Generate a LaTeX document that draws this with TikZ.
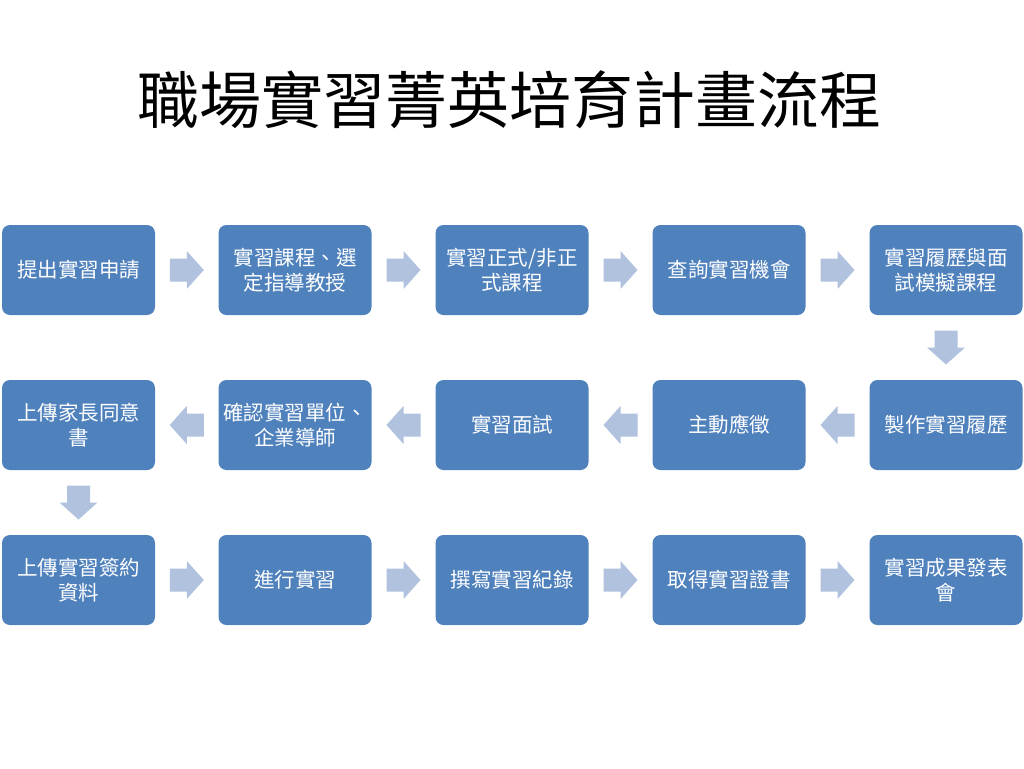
\documentclass[tikz,border=0pt]{standalone}
\usepackage{fontspec}
\setmainfont{Noto Sans CJK TC}
\newfontfamily\cjk{Noto Sans CJK TC}
\usetikzlibrary{calc}
\definecolor{boxblue}{HTML}{4F81BD}
\definecolor{arrowblue}{HTML}{B0C2DE}
\tikzset{
  stepbox/.style={draw=none, fill=boxblue, rounded corners=8pt, minimum width=153pt, minimum height=90pt,
    text=white, font=\cjk\fontsize{20.5}{25}\selectfont, align=center, inner sep=1pt},
  blockarrow/.pic={\fill[arrowblue] (-17,-11.5) -- (0,-11.5) -- (0,-19) -- (17,0) -- (0,19) -- (0,11.5) -- (-17,11.5) -- cycle;},
}
\begin{document}
\begin{tikzpicture}[x=1pt,y=-1pt]
\useasboundingbox[fill=white] (0,0) rectangle (1024,768);
\node[font=\cjk\fontsize{62}{64}\selectfont] (title) at (509,100) {職場實習菁英培育計畫流程};
% row 1
\node[stepbox] (a1) at (78.5,270) {提出實習申請};
\node[stepbox] (a2) at (295,270) {實習課程、選\\定指導教授};
\node[stepbox] (a3) at (512,270) {實習正式/非正\\式課程};
\node[stepbox] (a4) at (729,270) {查詢實習機會};
\node[stepbox] (a5) at (946,270) {實習履歷與面\\試模擬課程};
% row 2
\node[stepbox] (b5) at (946,425) {製作實習履歷};
\node[stepbox] (b4) at (729,425) {主動應徵};
\node[stepbox] (b3) at (512,425) {實習面試};
\node[stepbox] (b2) at (295,425) {確認實習單位、\\企業導師};
\node[stepbox] (b1) at (78.5,425) {上傳家長同意\\書};
% row 3
\node[stepbox] (c1) at (78.5,580) {上傳實習簽約\\資料};
\node[stepbox] (c2) at (295,580) {進行實習};
\node[stepbox] (c3) at (512,580) {撰寫實習紀錄};
\node[stepbox] (c4) at (729,580) {取得實習證書};
\node[stepbox] (c5) at (946,580) {實習成果發表\\會};
% arrow positions
\coordinate (r12) at ($(a1.east)!0.5!(a2.west)$);
\coordinate (r23) at ($(a2.east)!0.5!(a3.west)$);
\coordinate (r34) at ($(a3.east)!0.5!(a4.west)$);
\coordinate (r45) at ($(a4.east)!0.5!(a5.west)$);
\coordinate (d5) at ($(a5.south)!0.5!(b5.north)$);
\coordinate (l54) at ($(b5.west)!0.5!(b4.east)$);
\coordinate (l43) at ($(b4.west)!0.5!(b3.east)$);
\coordinate (l32) at ($(b3.west)!0.5!(b2.east)$);
\coordinate (l21) at ($(b2.west)!0.5!(b1.east)$);
\coordinate (d1) at ($(b1.south)!0.5!(c1.north)$);
\coordinate (s12) at ($(c1.east)!0.5!(c2.west)$);
\coordinate (s23) at ($(c2.east)!0.5!(c3.west)$);
\coordinate (s34) at ($(c3.east)!0.5!(c4.west)$);
\coordinate (s45) at ($(c4.east)!0.5!(c5.west)$);
% arrows
\foreach \p in {r12,r23,r34,r45,s12,s23,s34,s45} \pic at (\p) {blockarrow};
\foreach \p in {l54,l43,l32,l21} \pic[rotate=180] at (\p) {blockarrow};
\foreach \p in {d5,d1} \pic[rotate=-90] at (\p) {blockarrow};
\end{tikzpicture}
\end{document}
